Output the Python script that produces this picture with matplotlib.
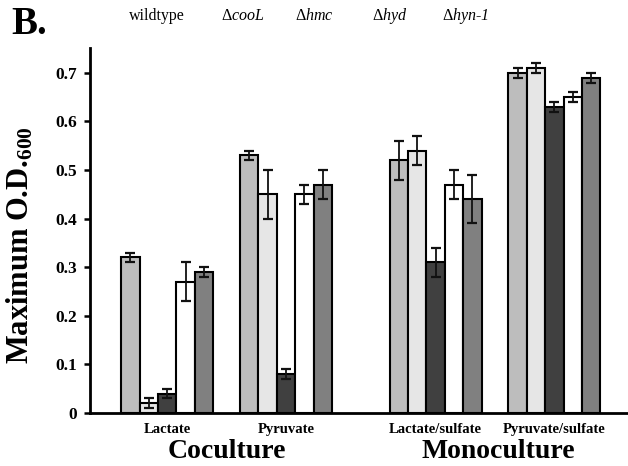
import matplotlib
matplotlib.use("Agg")
import matplotlib.pyplot as plt
import numpy as np

plt.rcParams['font.family'] = ['Liberation Serif', 'DejaVu Serif']
plt.rcParams['mathtext.fontset'] = 'custom'
plt.rcParams['mathtext.rm'] = 'Liberation Serif'
plt.rcParams['mathtext.it'] = 'Liberation Serif:italic'
plt.rcParams['mathtext.bf'] = 'Liberation Serif:bold'

# conditions along x
conditions = ["Lactate", "Pyruvate", "Lactate/sulfate", "Pyruvate/sulfate"]
strains = ["wildtype", "cooL", "hmc", "hyd", "hyn-1"]

# maximum O.D.600 per strain, one value per condition
wildtype = [0.32, 0.53, 0.52, 0.70]
cooL = [0.02, 0.45, 0.54, 0.71]
hmc = [0.04, 0.08, 0.31, 0.63]
hyd = [0.27, 0.45, 0.47, 0.65]
hyn1 = [0.29, 0.47, 0.44, 0.69]

wildtype_err = [0.01, 0.01, 0.04, 0.01]
cooL_err = [0.01, 0.05, 0.03, 0.01]
hmc_err = [0.01, 0.01, 0.03, 0.01]
hyd_err = [0.04, 0.02, 0.03, 0.01]
hyn1_err = [0.01, 0.03, 0.05, 0.01]

values = [wildtype, cooL, hmc, hyd, hyn1]
errors = [wildtype_err, cooL_err, hmc_err, hyd_err, hyn1_err]
colors = ['#bdbdbd', '#e6e6e6', '#404040', '#ffffff', '#808080']

group_x = np.array([0, 1, 2.26, 3.26])
width = 0.155

fig = plt.figure(figsize=(6.28, 4.66), dpi=100)
ax = fig.add_axes([0.1433, 0.1137, 0.87, 0.7833])

for i in range(5):
    xs = group_x + (i - 2) * width
    ax.bar(xs, values[i], width, color=colors[i], edgecolor='black', linewidth=1.5, zorder=2)
    ax.errorbar(xs, values[i], yerr=errors[i], fmt='none', ecolor='#111111',
                elinewidth=1.3, capsize=3.5, capthick=1.6, zorder=3)

ax.set_xlim(-0.65, 3.95)
ax.set_ylim(0, 0.751)
ax.set_yticks([0, 0.1, 0.2, 0.3, 0.4, 0.5, 0.6, 0.7])
ax.set_yticklabels(['0', '0.1', '0.2', '0.3', '0.4', '0.5', '0.6', '0.7'],
                   fontsize=12.5, fontweight='bold')
ax.set_xticks(group_x)
ax.set_xticklabels(conditions, fontsize=10.5, fontweight='bold')
ax.tick_params(axis='x', length=0, pad=7)
ax.tick_params(axis='y', length=4, width=1.8, pad=5)
for s in ['top', 'right']:
    ax.spines[s].set_visible(False)
ax.spines['left'].set_linewidth(2)
ax.spines['bottom'].set_linewidth(2)

ax.set_ylabel(r'Maximum O.D.$_{\mathbf{600}}$', fontsize=22, fontweight='bold')
ax.yaxis.set_label_coords(-0.1, 0.46)

# culture type labels under the groups
ax.text(group_x[:2].mean(), -0.105, 'Coculture', transform=ax.get_xaxis_transform(),
        ha='center', va='center', fontsize=20, fontweight='bold')
ax.text(group_x[2:].mean() + 0.03, -0.105, 'Monoculture', transform=ax.get_xaxis_transform(),
        ha='center', va='center', fontsize=20, fontweight='bold')

fig.text(0.018, 0.948, 'B.', fontsize=28, fontweight='bold', va='center', ha='left')

# legend labels (symbols cut off above the panel)
legend_x = [157, 243, 314, 390, 466]
legend_txt = ['wildtype', r'$\Delta\mathit{cooL}$', r'$\Delta\mathit{hmc}$',
              r'$\Delta\mathit{hyd}$', r'$\Delta\mathit{hyn}$-1']
legend_style = ['normal', 'italic', 'italic', 'italic', 'italic']
for lx, lt, st in zip(legend_x, legend_txt, legend_style):
    fig.text(lx / 628, 1 - 16 / 466, lt, fontsize=11.5, style=st, ha='center', va='center')

fig.savefig('out.png', dpi=100)
